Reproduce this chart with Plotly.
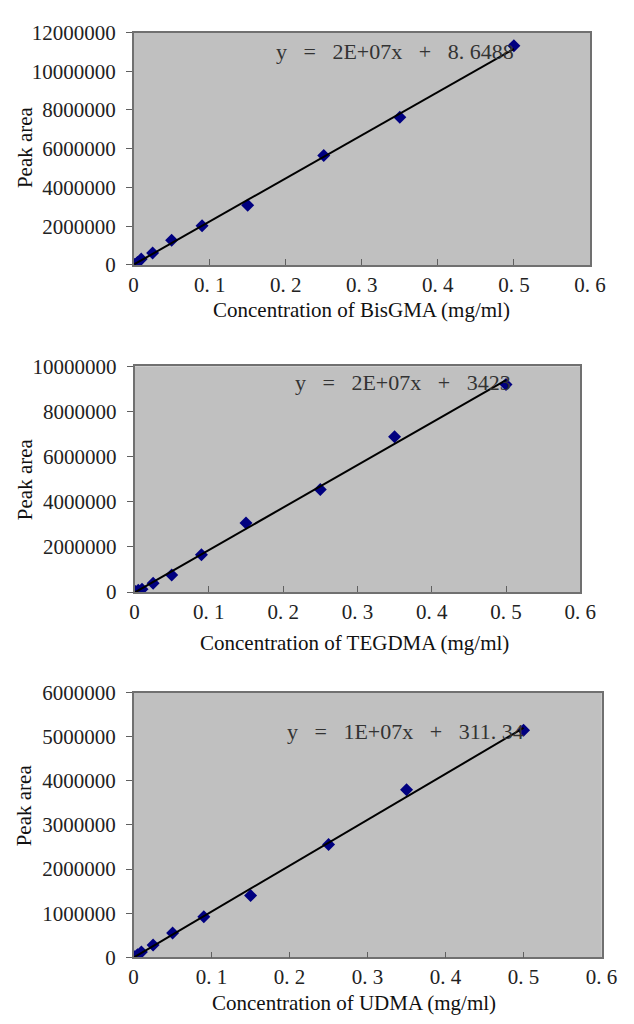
import numpy as np
import plotly.graph_objects as go

W, H = 634, 1024

# ---- data ----
conc = [0.001, 0.005, 0.01, 0.025, 0.05, 0.09, 0.15, 0.25, 0.35, 0.5]
bisgma_area = [20000, 120000, 300000, 620000, 1270000, 2020000, 3080000, 5650000, 7620000, 11320000]
tegdma_area = [30000, 80000, 130000, 390000, 760000, 1660000, 3060000, 4550000, 6880000, 9200000]
udma_area = [10000, 60000, 120000, 280000, 550000, 920000, 1400000, 2560000, 3800000, 5150000]

x_ticks = [0, 0.1, 0.2, 0.3, 0.4, 0.5, 0.6]
x_ticktext = ["0", "0. 1", "0. 2", "0. 3", "0. 4", "0. 5", "0. 6"]
y_ticks_top = [0, 2000000, 4000000, 6000000, 8000000, 10000000, 12000000]
y_ticks_mid = [0, 2000000, 4000000, 6000000, 8000000, 10000000]
y_ticks_bot = [0, 1000000, 2000000, 3000000, 4000000, 5000000, 6000000]

x_titles = ["Concentration of BisGMA (mg/ml)", "Concentration of TEGDMA (mg/ml)",
            "Concentration of UDMA (mg/ml)"]
equations = ["y   =   2E+07x   +   8. 6488", "y   =   2E+07x   +   3423",
             "y   =   1E+07x   +   311. 34"]

# ---- layout geometry (pixels) ----
panels = [
    dict(y=bisgma_area, yt=y_ticks_top, x0=133, x1=605, ytop=21, ybot=259,
         title_y=305, title_x=369, ylab_y=138, eq_x=278, eq_y=40),
    dict(y=tegdma_area, yt=y_ticks_mid, x0=134, x1=595, ytop=363, ybot=594,
         title_y=646, title_x=361, ylab_y=478, eq_x=298, eq_y=379),
    dict(y=udma_area, yt=y_ticks_bot, x0=133, x1=617, ytop=697, ybot=968,
         title_y=1015, title_x=361, ylab_y=812, eq_x=290, eq_y=737),
]

FONT = "Liberation Serif"
fig = go.Figure()
annotations = []

for i, p in enumerate(panels):
    n = "" if i == 0 else str(i + 1)
    xa, ya = "x" + n, "y" + n
    fig.add_trace(go.Scatter(x=conc, y=p["y"], mode="markers", xaxis=xa, yaxis=ya,
                             marker=dict(symbol="diamond", size=10, color="#000080"),
                             showlegend=False))
    slope, icpt = np.polyfit(conc, p["y"], 1)
    lx = [min(conc), max(conc)]
    fig.add_trace(go.Scatter(x=lx, y=[slope * v + icpt for v in lx], mode="lines",
                             xaxis=xa, yaxis=ya, line=dict(color="black", width=2),
                             showlegend=False))
    fig.layout["xaxis" + n] = dict(
        domain=[p["x0"] / W, p["x1"] / W], anchor=ya, range=[0, 0.6],
        tickvals=x_ticks, ticktext=x_ticktext, ticks="inside", ticklen=6,
        tickcolor="#606060", showgrid=False, zeroline=False, showline=True,
        linecolor="#707070", linewidth=1.5, mirror=True,
        tickfont=dict(family=FONT, size=21, color="#222"))
    fig.layout["yaxis" + n] = dict(
        domain=[1 - p["ybot"] / H, 1 - p["ytop"] / H], anchor=xa,
        range=[0, p["yt"][-1]], tickvals=p["yt"], ticktext=[str(v) for v in p["yt"]],
        ticks="outside", ticklen=6, tickcolor="#606060", showgrid=False,
        zeroline=False, showline=True, linecolor="#707070", linewidth=1.5, mirror=True,
        ticklabelstandoff=6,
        tickfont=dict(family=FONT, size=21, color="#222"))
    fig.add_shape(type="rect", xref=xa + " domain", yref=ya + " domain",
                  x0=0, x1=1, y0=0, y1=1, fillcolor="#C0C0C0", line_width=0,
                  layer="below")
    annotations.append(dict(text=x_titles[i], xref="paper", yref="paper",
                            x=p["title_x"] / W, y=1 - p["title_y"] / H,
                            showarrow=False, xanchor="center", yanchor="middle",
                            font=dict(family=FONT, size=21, color="#111")))
    annotations.append(dict(text="Peak area", xref="paper", yref="paper",
                            x=20 / W, y=1 - p["ylab_y"] / H, textangle=-90,
                            showarrow=False, xanchor="center", yanchor="middle",
                            font=dict(family=FONT, size=21, color="#111")))
    annotations.append(dict(text=equations[i], xref="paper", yref="paper",
                            x=p["eq_x"] / W, y=1 - p["eq_y"] / H,
                            showarrow=False, xanchor="left", yanchor="middle",
                            font=dict(family=FONT, size=22, color="#333")))

fig.update_layout(width=W, height=H, margin=dict(l=0, r=0, t=0, b=0),
                  paper_bgcolor="white", plot_bgcolor="#C0C0C0",
                  annotations=annotations)
fig.write_html("out.html")
